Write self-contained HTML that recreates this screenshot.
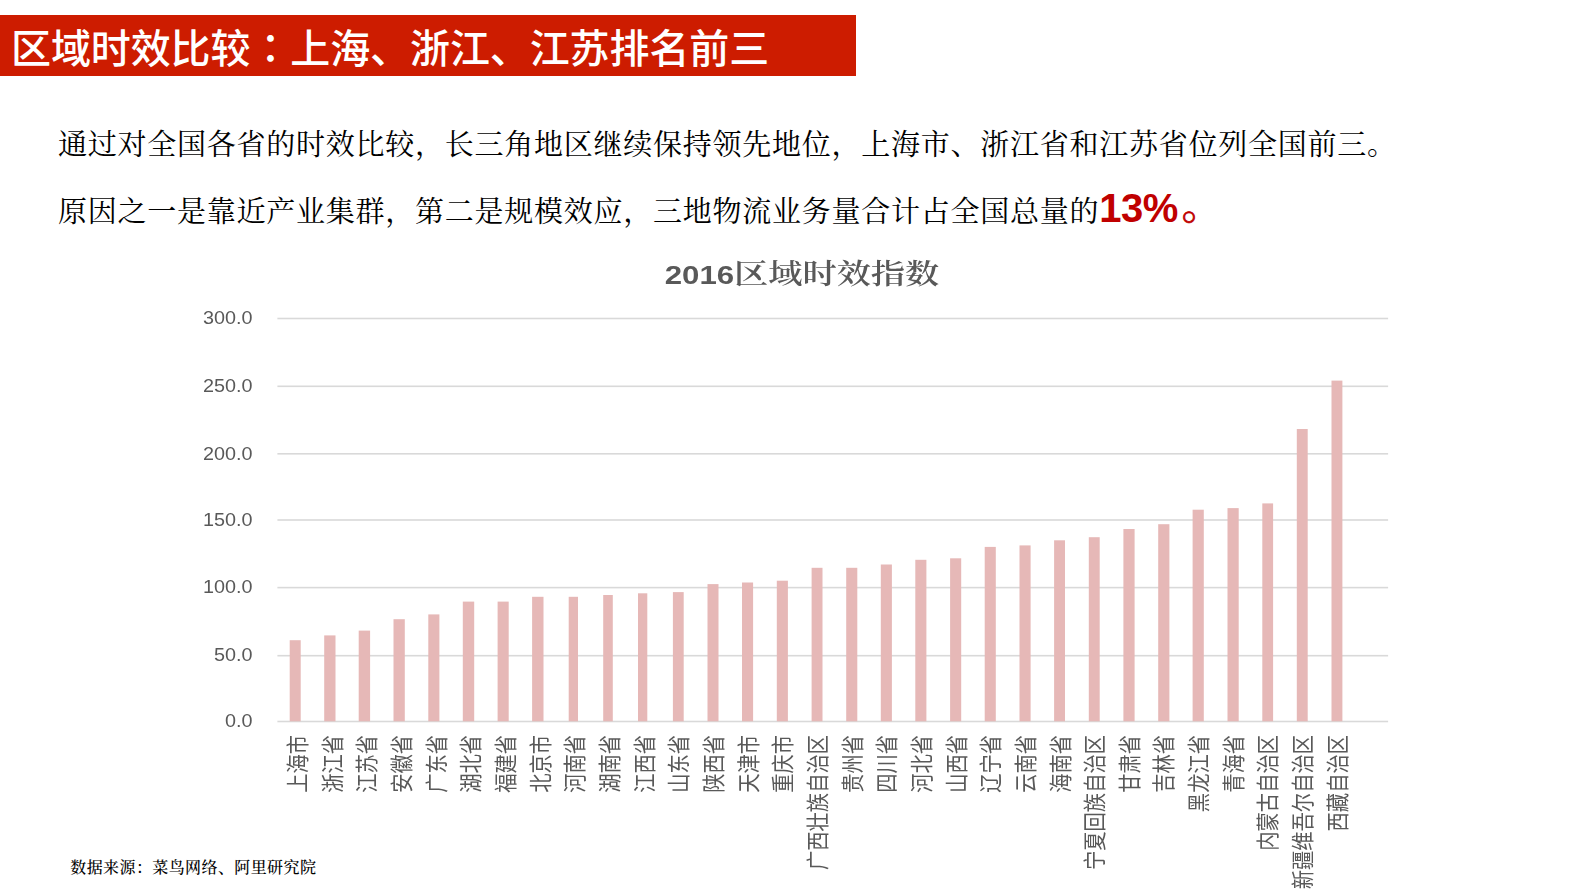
<!DOCTYPE html>
<html lang="zh-CN"><head><meta charset="utf-8"><title>区域时效比较</title>
<style>
html,body{margin:0;padding:0;background:#fff;}
body{width:1587px;height:892px;overflow:hidden;position:relative;font-family:"Liberation Sans","Noto Sans CJK SC",sans-serif;}
.hdr{position:absolute;left:0;top:15px;width:856px;height:60.5px;background:#cd1c00;}
.hdr span.t{position:absolute;left:11px;top:0.5px;line-height:60px;font-size:40px;font-weight:500;color:#fff;white-space:nowrap;letter-spacing:-0.1px;font-family:"Liberation Sans","Noto Sans CJK SC",sans-serif;}
.hdr .c{font-family:"Noto Sans CJK JP","Noto Sans CJK SC",sans-serif;}
.p{position:absolute;left:58px;white-space:nowrap;font-family:"Liberation Serif","Noto Serif CJK SC",serif;font-size:29px;letter-spacing:0.75px;color:#000;line-height:40px;}
.p b{font-family:"Liberation Sans",sans-serif;font-weight:700;font-size:40px;color:#c00000;letter-spacing:-0.5px;line-height:0;}
.p i{font-style:normal;color:#c00000;font-size:40px;font-weight:700;line-height:0;margin-left:4px;position:relative;top:-3.2px;-webkit-text-stroke:0.7px #c00000;}
.src{position:absolute;left:70.3px;top:856px;font-weight:500;font-family:"Liberation Serif","Noto Serif CJK SC",serif;font-size:16px;letter-spacing:0.4px;line-height:24px;color:#000;white-space:nowrap;}
svg{position:absolute;left:0;top:0;filter:blur(0.4px);}
.ax{font-family:"Liberation Sans",sans-serif;font-size:18px;fill:#595959;}
.lb{font-family:"Noto Sans CJK SC","WenQuanYi Zen Hei",sans-serif;font-size:19.3px;fill:#595959;}
.ct{fill:#595959;font-weight:700;}
</style></head><body>
<div class="hdr"><span class="t">区域时效比较<span class="c" lang="ja">：</span>上海、浙江、江苏排名前三</span></div>
<div class="p" style="top:124.7px">通过对全国各省的时效比较，长三角地区继续保持领先地位，上海市、浙江省和江苏省位列全国前三。</div>
<div class="p" style="top:192px">原因之一是靠近产业集群，第二是规模效应，三地物流业务量合计占全国总量的<b>13%</b><i>。</i></div>
<div class="src">数据来源：菜鸟网络、阿里研究院</div>
<svg width="1587" height="892" viewBox="0 0 1587 892">

<rect x="277.4" y="317.7" width="1110.7" height="1.6" fill="#d9d9d9"/>
<rect x="277.4" y="385.5" width="1110.7" height="1.6" fill="#d9d9d9"/>
<rect x="277.4" y="453.0" width="1110.7" height="1.6" fill="#d9d9d9"/>
<rect x="277.4" y="519.2" width="1110.7" height="1.6" fill="#d9d9d9"/>
<rect x="277.4" y="586.8" width="1110.7" height="1.6" fill="#d9d9d9"/>
<rect x="277.4" y="654.9" width="1110.7" height="1.6" fill="#d9d9d9"/>
<rect x="277.4" y="720.7" width="1110.7" height="1.6" fill="#d9d9d9"/>
<rect x="289.7" y="640.2" width="11.0" height="81.1" fill="#e6b8b7"/>
<rect x="324.2" y="635.4" width="11.3" height="85.9" fill="#e6b8b7"/>
<rect x="358.7" y="630.6" width="11.4" height="90.7" fill="#e6b8b7"/>
<rect x="393.5" y="619.2" width="11.3" height="102.1" fill="#e6b8b7"/>
<rect x="428.3" y="614.4" width="11.1" height="106.9" fill="#e6b8b7"/>
<rect x="462.8" y="601.6" width="11.4" height="119.7" fill="#e6b8b7"/>
<rect x="497.6" y="601.6" width="11.1" height="119.7" fill="#e6b8b7"/>
<rect x="532.1" y="596.8" width="11.4" height="124.5" fill="#e6b8b7"/>
<rect x="568.7" y="596.8" width="9.3" height="124.5" fill="#e6b8b7"/>
<rect x="603.2" y="595.0" width="9.6" height="126.3" fill="#e6b8b7"/>
<rect x="638.0" y="593.3" width="9.3" height="128.0" fill="#e6b8b7"/>
<rect x="672.9" y="592.1" width="10.8" height="129.2" fill="#e6b8b7"/>
<rect x="707.5" y="584.1" width="11.0" height="137.2" fill="#e6b8b7"/>
<rect x="742.0" y="582.5" width="11.1" height="138.8" fill="#e6b8b7"/>
<rect x="776.8" y="580.7" width="11.1" height="140.6" fill="#e6b8b7"/>
<rect x="811.6" y="567.8" width="10.9" height="153.5" fill="#e6b8b7"/>
<rect x="846.2" y="567.8" width="11.1" height="153.5" fill="#e6b8b7"/>
<rect x="880.8" y="564.5" width="11.1" height="156.8" fill="#e6b8b7"/>
<rect x="915.3" y="559.8" width="11.1" height="161.5" fill="#e6b8b7"/>
<rect x="950.1" y="558.3" width="11.1" height="163.0" fill="#e6b8b7"/>
<rect x="984.7" y="546.9" width="11.1" height="174.4" fill="#e6b8b7"/>
<rect x="1019.5" y="545.4" width="11.1" height="175.9" fill="#e6b8b7"/>
<rect x="1054.1" y="540.3" width="10.9" height="181.0" fill="#e6b8b7"/>
<rect x="1088.8" y="537.2" width="10.9" height="184.1" fill="#e6b8b7"/>
<rect x="1123.4" y="529.0" width="11.2" height="192.3" fill="#e6b8b7"/>
<rect x="1158.2" y="524.2" width="11.2" height="197.1" fill="#e6b8b7"/>
<rect x="1192.6" y="509.7" width="11.2" height="211.6" fill="#e6b8b7"/>
<rect x="1227.5" y="508.1" width="11.2" height="213.2" fill="#e6b8b7"/>
<rect x="1262.3" y="503.4" width="10.8" height="217.9" fill="#e6b8b7"/>
<rect x="1296.8" y="429.0" width="10.9" height="292.3" fill="#e6b8b7"/>
<rect x="1331.5" y="380.6" width="10.9" height="340.7" fill="#e6b8b7"/>
<text class="ax" transform="translate(252.5 324.2) scale(1.1 1)" text-anchor="end">300.0</text>
<text class="ax" transform="translate(252.5 392.0) scale(1.1 1)" text-anchor="end">250.0</text>
<text class="ax" transform="translate(252.5 459.5) scale(1.1 1)" text-anchor="end">200.0</text>
<text class="ax" transform="translate(252.5 525.7) scale(1.1 1)" text-anchor="end">150.0</text>
<text class="ax" transform="translate(252.5 593.3) scale(1.1 1)" text-anchor="end">100.0</text>
<text class="ax" transform="translate(252.5 661.4) scale(1.1 1)" text-anchor="end">50.0</text>
<text class="ax" transform="translate(252.5 727.2) scale(1.1 1)" text-anchor="end">0.0</text>
<text class="ct" transform="translate(802 283.5) scale(1.2 1)" text-anchor="middle"><tspan style="font-family:'Liberation Sans',sans-serif;font-size:26px">2016</tspan><tspan style="font-family:'Noto Serif CJK SC',serif;font-size:28.5px;font-weight:600">区域时效指数</tspan></text>
<text class="lb" transform="translate(305.9 735) scale(1.2 1) rotate(-90)" text-anchor="end">上海市</text>
<text class="lb" transform="translate(340.6 735) scale(1.2 1) rotate(-90)" text-anchor="end">浙江省</text>
<text class="lb" transform="translate(375.3 735) scale(1.2 1) rotate(-90)" text-anchor="end">江苏省</text>
<text class="lb" transform="translate(409.9 735) scale(1.2 1) rotate(-90)" text-anchor="end">安徽省</text>
<text class="lb" transform="translate(444.6 735) scale(1.2 1) rotate(-90)" text-anchor="end">广东省</text>
<text class="lb" transform="translate(479.2 735) scale(1.2 1) rotate(-90)" text-anchor="end">湖北省</text>
<text class="lb" transform="translate(513.9 735) scale(1.2 1) rotate(-90)" text-anchor="end">福建省</text>
<text class="lb" transform="translate(548.6 735) scale(1.2 1) rotate(-90)" text-anchor="end">北京市</text>
<text class="lb" transform="translate(583.2 735) scale(1.2 1) rotate(-90)" text-anchor="end">河南省</text>
<text class="lb" transform="translate(617.9 735) scale(1.2 1) rotate(-90)" text-anchor="end">湖南省</text>
<text class="lb" transform="translate(652.5 735) scale(1.2 1) rotate(-90)" text-anchor="end">江西省</text>
<text class="lb" transform="translate(687.2 735) scale(1.2 1) rotate(-90)" text-anchor="end">山东省</text>
<text class="lb" transform="translate(721.9 735) scale(1.2 1) rotate(-90)" text-anchor="end">陕西省</text>
<text class="lb" transform="translate(756.5 735) scale(1.2 1) rotate(-90)" text-anchor="end">天津市</text>
<text class="lb" transform="translate(791.2 735) scale(1.2 1) rotate(-90)" text-anchor="end">重庆市</text>
<text class="lb" transform="translate(825.8 735) scale(1.2 1) rotate(-90)" text-anchor="end">广西壮族自治区</text>
<text class="lb" transform="translate(860.5 735) scale(1.2 1) rotate(-90)" text-anchor="end">贵州省</text>
<text class="lb" transform="translate(895.2 735) scale(1.2 1) rotate(-90)" text-anchor="end">四川省</text>
<text class="lb" transform="translate(929.8 735) scale(1.2 1) rotate(-90)" text-anchor="end">河北省</text>
<text class="lb" transform="translate(964.5 735) scale(1.2 1) rotate(-90)" text-anchor="end">山西省</text>
<text class="lb" transform="translate(999.1 735) scale(1.2 1) rotate(-90)" text-anchor="end">辽宁省</text>
<text class="lb" transform="translate(1033.8 735) scale(1.2 1) rotate(-90)" text-anchor="end">云南省</text>
<text class="lb" transform="translate(1068.5 735) scale(1.2 1) rotate(-90)" text-anchor="end">海南省</text>
<text class="lb" transform="translate(1103.1 735) scale(1.2 1) rotate(-90)" text-anchor="end">宁夏回族自治区</text>
<text class="lb" transform="translate(1137.8 735) scale(1.2 1) rotate(-90)" text-anchor="end">甘肃省</text>
<text class="lb" transform="translate(1172.4 735) scale(1.2 1) rotate(-90)" text-anchor="end">吉林省</text>
<text class="lb" transform="translate(1207.1 735) scale(1.2 1) rotate(-90)" text-anchor="end">黑龙江省</text>
<text class="lb" transform="translate(1241.8 735) scale(1.2 1) rotate(-90)" text-anchor="end">青海省</text>
<text class="lb" transform="translate(1276.4 735) scale(1.2 1) rotate(-90)" text-anchor="end">内蒙古自治区</text>
<text class="lb" transform="translate(1311.1 735) scale(1.2 1) rotate(-90)" text-anchor="end">新疆维吾尔自治区</text>
<text class="lb" transform="translate(1345.8 735) scale(1.2 1) rotate(-90)" text-anchor="end">西藏自治区</text>
</svg>
</body></html>
